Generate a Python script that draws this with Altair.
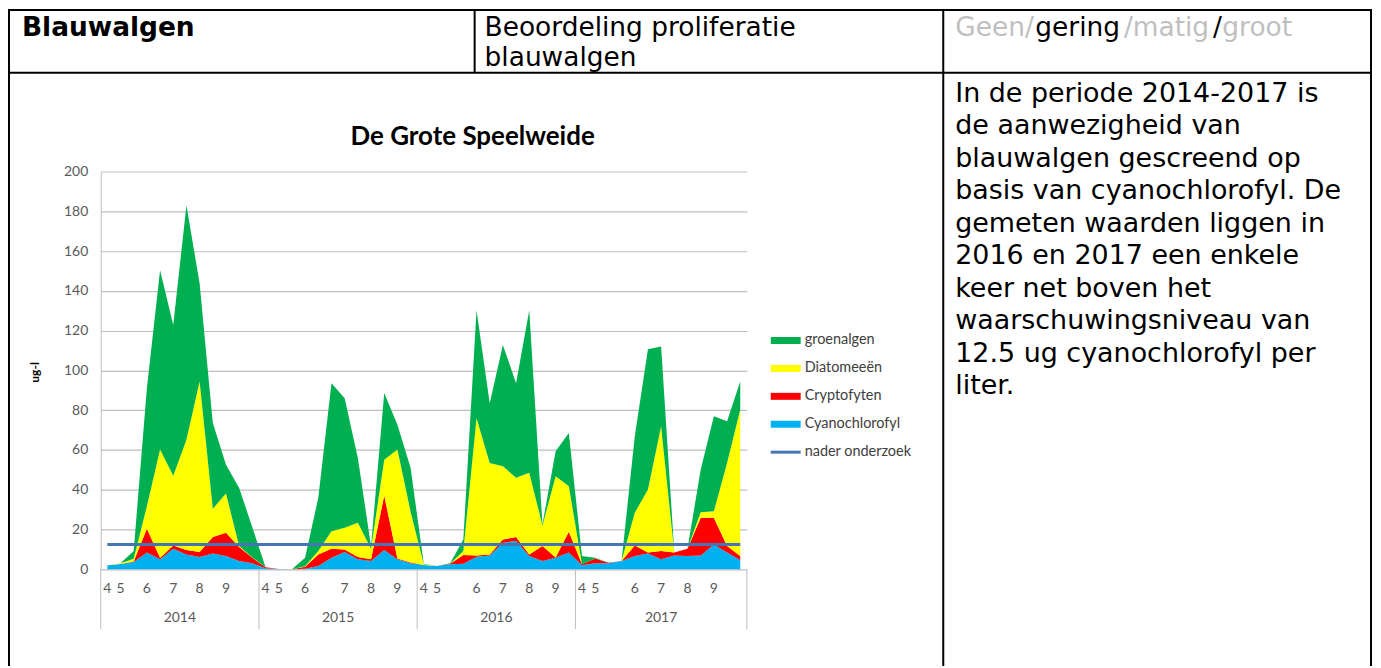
import altair as alt
import pandas as pd

# ---------------- data ----------------
years = ["2014", "2015", "2016", "2017"]
samples_per_year = [12, 12, 12, 13]
month_labels = ["4", "5", "", "6", "", "7", "", "8", "", "9", "", "",
                "4", "5", "", "6", "", "", "7", "", "8", "", "9", "",
                "4", "5", "", "", "6", "", "7", "", "8", "", "9", "",
                "4", "5", "", "", "6", "", "7", "", "8", "", "9", "", ""]
series_names = ["groenalgen", "Diatomeeën", "Cryptofyten", "Cyanochlorofyl"]
series_colors = ["#00B050", "#FFFF00", "#FF0000", "#00B0F0"]
threshold_name = "nader onderzoek"
threshold_value = 12.5
threshold_color = "#4675B5"

cyanochlorofyl = [2.0, 2.7, 3.7, 8.4, 5.0, 10.4, 7.5, 6.2, 8.0, 6.7, 4.2, 3.0,
                  0.5, 0.2, 0.0, 0.3, 1.7, 5.8, 8.7, 5.0, 4.2, 9.7, 5.0, 3.0,
                  2.2, 1.7, 2.5, 2.8, 6.3, 7.0, 13.4, 14.2, 6.7, 4.2, 5.8, 8.4,
                  2.0, 3.0, 3.0, 4.2, 6.7, 7.9, 5.0, 7.0, 6.7, 7.0, 12.5, 8.4, 4.7]
cryptofyten = [0.0, 0.0, 0.2, 12.0, 0.8, 1.6, 2.2, 2.5, 8.2, 11.7, 7.0, 2.8,
               0.5, 0.0, 0.0, 1.0, 5.8, 4.6, 1.3, 1.2, 0.8, 27.4, 0.5, 0.4,
               0.0, 0.0, 0.3, 4.4, 0.7, 0.4, 1.6, 2.0, 0.8, 7.5, 0.2, 10.5,
               0.5, 2.5, 0.3, 0.0, 5.3, 0.5, 4.2, 1.4, 3.7, 18.9, 13.4, 3.3, 2.0]
diatomeeen = [0.0, 0.3, 1.4, 11.3, 54.4, 35.1, 55.5, 85.7, 14.2, 19.7, 0.5, 0.2,
              0.0, 0.0, 0.0, 0.2, 1.7, 8.8, 10.9, 17.2, 5.4, 18.0, 54.7, 25.6,
              0.3, 0.0, 0.0, 2.0, 69.0, 46.1, 36.8, 29.8, 41.0, 10.3, 40.8, 22.9,
              0.0, 0.0, 0.0, 0.0, 16.4, 31.7, 62.6, 0.1, 0.0, 2.8, 3.3, 41.8, 73.5]
groenalgen = [0.0, 0.0, 3.9, 59.3, 90.2, 75.7, 117.8, 49.3, 43.1, 14.5, 29.2, 15.0,
              0.0, 0.0, 0.0, 4.3, 26.8, 74.4, 65.1, 32.6, 1.1, 33.5, 12.5, 22.0,
              0.3, 0.0, 0.2, 5.8, 54.3, 30.0, 61.0, 47.6, 81.8, 0.6, 12.5, 26.7,
              4.2, 0.3, 0.0, 0.0, 38.4, 70.5, 40.2, 0.0, 0.0, 21.3, 47.7, 20.9, 14.2]

y_ticks = [0, 20, 40, 60, 80, 100, 120, 140, 160, 180, 200]

chart_title = "De Grote Speelweide"
y_title = "ug-l"
cell_title = "Blauwalgen"
cell_label = ["Beoordeling proliferatie", "blauwalgen"]
rating_parts = ["Geen/", "gering", "/matig", "/", "groot"]
rating_colors = ["#BFBFBF", "#000000", "#BFBFBF", "#000000", "#BFBFBF"]
paragraph = ["In de periode 2014-2017 is",
             "de aanwezigheid van",
             "blauwalgen gescreend op",
             "basis van cyanochlorofyl. De",
             "gemeten waarden liggen in",
             "2016 en 2017 een enkele",
             "keer net boven het",
             "waarschuwingsniveau van",
             "12.5 ug cyanochlorofyl per",
             "liter."]

# ---------------- tables built from the arrays ----------------
n = len(month_labels)
stack_series = [("Cyanochlorofyl", cyanochlorofyl), ("Cryptofyten", cryptofyten),
                ("Diatomeeën", diatomeeen), ("groenalgen", groenalgen)]
rows = []
for order, (name, vals) in enumerate(stack_series):
    for i, v in enumerate(vals):
        rows.append({"x": i + 0.5, "series": name, "value": v, "order": order})
df = pd.DataFrame(rows)

months_df = pd.DataFrame([{"x": i + 0.5, "label": m} for i, m in enumerate(month_labels) if m])
bounds = [0]
for s in samples_per_year:
    bounds.append(bounds[-1] + s)
years_df = pd.DataFrame({"x": [(bounds[k] + bounds[k + 1]) / 2 for k in range(len(years))],
                         "label": years})
sep_df = pd.DataFrame({"x": bounds})
thr_df = pd.DataFrame({"x": [0.5], "x2": [n - 0.5], "value": [threshold_value]})

# ---------------- layout helpers ----------------
OX, OY = 101, 171          # page position of plot origin
W, H = 648, 399
TOTAL_W, TOTAL_H = 1369, 658
PAD = {"left": OX - 8, "top": OY - 8, "right": TOTAL_W - (OX - 8) - W,
       "bottom": TOTAL_H - (OY - 8) - H}

def X(px):
    return px - OX

def Y(py):
    return py - OY

dummy = pd.DataFrame({"d": [0]})
CHART_FONT = "Lato"
DOC_FONT = "DejaVu Sans"

def text(t, x, y, size, color="#000000", weight="normal", font=DOC_FONT,
         align="left", baseline="alphabetic", line_height=None):
    kw = dict(text=t, align=align, baseline=baseline, font=font, fontSize=size,
              fontWeight=weight, color=color)
    if line_height:
        kw["lineHeight"] = line_height
    return alt.Chart(dummy).mark_text(**kw).encode(x=alt.value(X(x)), y=alt.value(Y(y)))

def hline(x1, x2, y, w=2, color="#000000"):
    return alt.Chart(dummy).mark_rule(color=color, strokeWidth=w).encode(
        x=alt.value(X(x1)), x2=alt.value(X(x2)), y=alt.value(Y(y)))

def vline(x, y1, y2, w=2, color="#000000"):
    return alt.Chart(dummy).mark_rule(color=color, strokeWidth=w).encode(
        x=alt.value(X(x)), y=alt.value(Y(y1)), y2=alt.value(Y(y2)))

xscale = alt.Scale(domain=[0, n], nice=False, zero=False)
yscale = alt.Scale(domain=[0, 200], nice=False)
yaxis = alt.Axis(values=y_ticks, grid=True, gridColor="#BEBEBE", gridWidth=1.2,
                 ticks=False, domain=True, domainColor="#BFBFBF", domainWidth=1,
                 labelFont=CHART_FONT, labelFontSize=14, labelColor="#595959",
                 labelPadding=13, title=y_title, titleFont=CHART_FONT,
                 titleFontSize=12, titleFontWeight="bold", titleColor="#000000",
                 titleX=-66, titleY=201, titleAngle=270, titleAlign="center",
                 titleBaseline="middle")

# ---------------- chart ----------------
area = alt.Chart(df).mark_area(interpolate="linear", opacity=1).encode(
    x=alt.X("x:Q", scale=xscale, axis=None),
    y=alt.Y("value:Q", stack="zero", scale=yscale, axis=yaxis),
    color=alt.Color("series:N", scale=alt.Scale(domain=series_names, range=series_colors),
                    legend=None),
    order=alt.Order("order:Q", sort="ascending"),
)

thr = alt.Chart(thr_df).mark_rule(color=threshold_color, strokeWidth=3).encode(
    x=alt.X("x:Q", scale=xscale, axis=None), x2="x2:Q",
    y=alt.Y("value:Q", scale=yscale, axis=yaxis))

months = alt.Chart(months_df).mark_text(font=CHART_FONT, fontSize=14, color="#595959",
                                        baseline="middle").encode(
    x=alt.X("x:Q", scale=xscale, axis=None), y=alt.value(Y(590)), text="label:N")

yrs = alt.Chart(years_df).mark_text(font=CHART_FONT, fontSize=14, color="#595959",
                                    baseline="middle").encode(
    x=alt.X("x:Q", scale=xscale, axis=None), y=alt.value(Y(619)), text="label:N")

seps = alt.Chart(sep_df).mark_rule(color="#BFBFBF", strokeWidth=1).encode(
    x=alt.X("x:Q", scale=xscale, axis=None), y=alt.value(Y(570)), y2=alt.value(Y(630)))

layers = [area, thr, seps, months, yrs]

# chart title
layers.append(text(chart_title, 474, 144, 26, weight="bold", font=CHART_FONT, align="center"))

# legend
for k, (name, col) in enumerate(zip(series_names, series_colors)):
    yc = 340.5 + 28 * k
    layers.append(alt.Chart(dummy).mark_rect(color=col).encode(
        x=alt.value(X(773)), x2=alt.value(X(803)), y=alt.value(Y(yc - 3.5)), y2=alt.value(Y(yc + 3.5))))
    layers.append(text(name, 807, yc, 14.5, color="#404040", font=CHART_FONT, baseline="middle"))
yc = 340.5 + 28 * 4
layers.append(hline(773, 803, yc, w=3, color=threshold_color))
layers.append(text(threshold_name, 807, yc, 14.5, color="#404040", font=CHART_FONT, baseline="middle"))

# table borders
layers += [
    hline(8, 1376, 9),
    hline(8, 1376, 72),
    vline(9, 8, 680),
    vline(476, 8, 72),
    vline(946, 8, 680),
    vline(1375, 8, 680),
]

# header cells
FS = 26.5
layers.append(text(cell_title, 22, 35, FS, weight="bold"))
layers.append(text(cell_label, 486, 35, FS, line_height=30))
em = [2.90, 3.208, 3.229, 0.337, 2.662]
xp = 958
for part, col, w in zip(rating_parts, rating_colors, em):
    layers.append(text(part, xp, 35, FS, color=col))
    xp += w * FS * 1.045

# paragraph cell
layers.append(text(paragraph, 958, 101, 27, line_height=32.6))

chart = alt.layer(*layers).properties(
    width=W, height=H, padding=PAD,
    autosize=alt.AutoSizeParams(type="none"),
    background="white",
).configure_view(stroke="transparent")

chart.save("out.html", embed_options={"renderer": "svg", "actions": False})
